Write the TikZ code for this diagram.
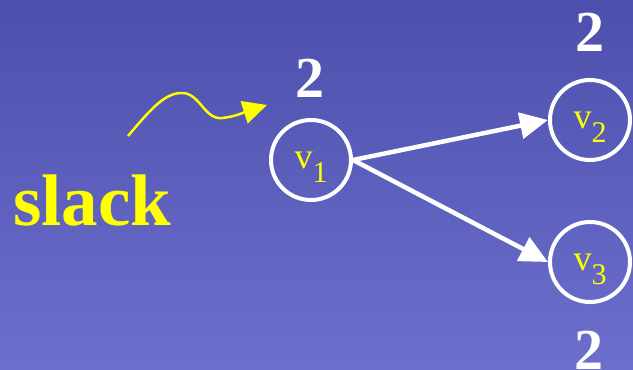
\documentclass[tikz,border=0pt]{standalone}
\usepackage{fontspec}
\setmainfont{Liberation Serif}
\usetikzlibrary{arrows.meta}
\definecolor{bgtop}{RGB}{76,80,172}
\definecolor{bgbot}{RGB}{108,112,204}
\definecolor{slackyellow}{RGB}{255,255,0}
\tikzset{
  vertex/.style={circle,draw=white,line width=4pt,minimum size=80pt,inner sep=0pt,
    text=slackyellow,font=\fontsize{36}{38}\selectfont},
  weight/.style={text=white,font=\fontsize{58}{60}\selectfont\bfseries,inner sep=0pt},
  edge/.style={draw=white,line width=4.5pt,-{Triangle[length=28pt,width=26pt]}}
}
\newcommand{\vsub}[1]{v\smash{\raisebox{-14pt}{\fontsize{30}{32}\selectfont #1}}}
\begin{document}
\begin{tikzpicture}[x=1pt,y=-1pt]
  \shade[top color=bgtop,bottom color=bgbot] (0,0) rectangle (633,370);
  \useasboundingbox (0,0) rectangle (633,370);
  \node[vertex] (v1) at (311,160) {\vsub{1}};
  \node[vertex] (v2) at (590,120) {\vsub{2}};
  \node[vertex] (v3) at (590,262) {\vsub{3}};
  \node[weight] (w1) at (310,78)  {2};
  \node[weight] (w2) at (590,32)  {2};
  \node[weight] (w3) at (589,350) {2};
  \draw[edge] (v1.east) -- (v2.west);
  \draw[edge] (v1.east) -- (v3.west);
  % slack label and its pointer
  \node[text=slackyellow,font=\fontsize{73}{75}\selectfont\bfseries,inner sep=0pt,anchor=base west]
    (slack) at (13,225) {slack};
  \coordinate (tail) at (128,136);
  \coordinate (head) at (267,105);
  \draw[slackyellow,line width=2.5pt,-{Triangle[length=24pt,width=23pt]}]
    (tail) .. controls (150,110) and (165,92) .. (183,93)
    .. controls (200,94) and (205,120) .. (222,118)
    .. controls (234,117) and (245,112) .. (head);
\end{tikzpicture}
\end{document}
